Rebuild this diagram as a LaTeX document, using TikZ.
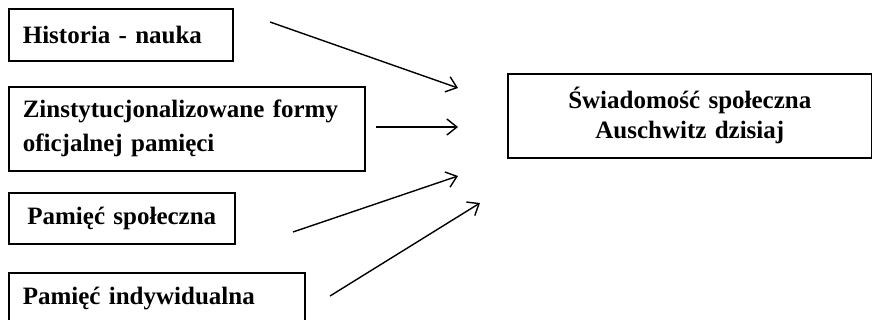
\documentclass[tikz,border=0pt]{standalone}
\usepackage{fontspec}
\setmainfont{Liberation Serif}
\usetikzlibrary{arrows.meta}

\begin{document}
\begin{tikzpicture}[x=1pt, y=-1pt,
  box/.style={draw, line width=1.6pt, inner xsep=14pt, inner ysep=0pt, anchor=north west, align=left, font=\fontsize{25}{34}\selectfont\bfseries},
  arr/.style={-{Straight Barb[length=10pt,width=16pt]}, line width=1.4pt}]
\useasboundingbox (0,0) rectangle (872,320);
\clip (0,0) rectangle (872,320);

\node[box, text width=196pt, minimum height=52pt] (hist) at (8,8) {Historia - nauka};
\node[box, text width=328pt, minimum height=84pt] (forms) at (8,86) {Zinstytucjonalizowane formy\\oficjalnej pamięci};
\node[box, text width=198pt, minimum height=51pt, align=center] (social) at (8,192) {Pamięć społeczna};
\node[box, text width=268pt, minimum height=52pt] (indiv) at (8,272) {Pamięć indywidualna};
\node[box, text width=336pt, minimum height=84pt, align=center, font=\fontsize{25}{30}\selectfont\bfseries] (aware) at (507,73) {Świadomość społeczna\\Auschwitz dzisiaj};

% arrow ends
\coordinate (hist-out) at (270,22);
\coordinate (hist-in) at (458,88);
\coordinate (forms-out) at (376,127);
\coordinate (forms-in) at (458,127);
\coordinate (social-out) at (293,232);
\coordinate (social-in) at (458,176);
\coordinate (indiv-out) at (330,296);
\coordinate (indiv-in) at (480,203);

\draw[arr] (hist-out) -- (hist-in);
\draw[arr] (forms-out) -- (forms-in);
\draw[arr] (social-out) -- (social-in);
\draw[arr] (indiv-out) -- (indiv-in);
\end{tikzpicture}
\end{document}
